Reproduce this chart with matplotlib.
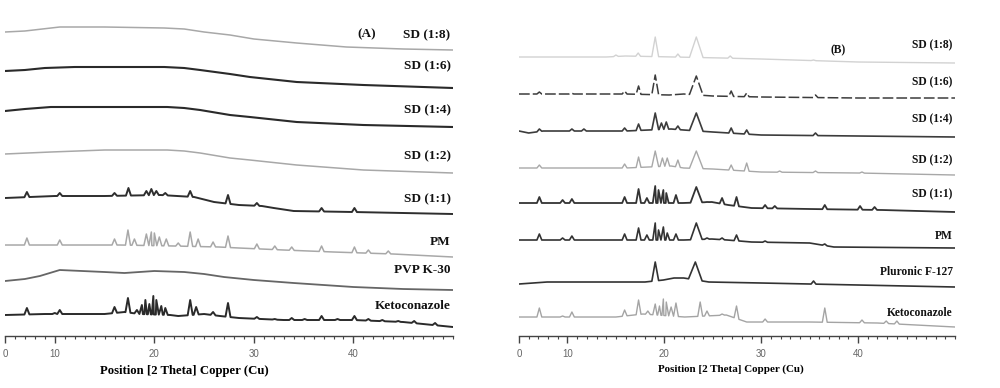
import numpy as np
import matplotlib.pyplot as plt
from matplotlib.ticker import FixedLocator, MultipleLocator

# XRD traces, heights (arbitrary units above the axis line)
# each trace: baseline nodes (2theta, level) + peaks (2theta, apex level[, half width])

# ---------------- panel A (PVP K-30) ----------------
sd18_a_base = [(5, 304), (7, 305), (10.5, 309), (15, 309), (21, 308), (23, 307), (25, 304), (27.6, 301),
               (30, 297), (34.3, 293), (39.3, 289), (45, 287), (50, 286)]
sd16_a_base = [(5, 265), (7, 266), (9, 268), (12, 269), (21, 269), (23, 268), (24.6, 266), (27.6, 262),
               (29.6, 259), (34.3, 254), (41, 251), (50, 248)]
sd14_a_base = [(5, 225), (7, 227), (9.6, 229), (15, 229), (21.3, 229), (23, 228), (24.6, 226), (27.6, 221),
               (29.6, 219), (34.3, 214), (41, 211), (50, 209)]
sd12_a_base = [(5, 182), (9.6, 184), (15, 186), (21.3, 186), (23, 185), (24.6, 183), (27.6, 178),
               (29.6, 176), (34.3, 171), (41, 166), (50, 163)]
sd11_a_base = [(5, 138), (10, 140), (15, 140), (20.6, 141), (24, 139), (26, 134), (28.5, 131),
               (30.8, 130), (32, 128), (34, 125), (40, 124), (45, 123), (50, 122)]
sd11_a_peaks = [(7.2, 144), (10.5, 143), (16.0, 143), (17.4, 148), (19.2, 145), (19.7, 147), (20.2, 145),
                (21.1, 143), (23.6, 145), (27.4, 141), (30.3, 133), (36.8, 128), (40.1, 128)]
pm_a_base = [(5, 91), (12, 91), (16.5, 91), (22, 90), (26.5, 89), (28.5, 88), (33, 86), (38, 84),
             (44, 82), (50, 79)]
pm_a_peaks = [(7.2, 98), (10.5, 96), (16.0, 97), (17.35, 106), (18.0, 97), (19.2, 102), (19.7, 104),
              (20.0, 103), (20.5, 99), (21.2, 97), (22.4, 93), (23.6, 104), (24.4, 97), (25.9, 94),
              (27.4, 100), (30.3, 92), (32.1, 90), (33.8, 89), (36.8, 90), (40.1, 89), (41.5, 86),
              (43.5, 85)]
pvp_a_base = [(5, 55), (7, 57), (8.5, 60), (10.5, 66), (15, 64), (17, 63), (20, 65), (23, 64),
              (25, 62), (27, 59), (30, 56), (34, 53), (40, 49), (45, 47), (50, 46)]
keto_a_base = [(5, 21), (9, 22), (12, 22), (15, 22), (17, 24), (18.5, 22), (21.6, 21), (22.4, 20),
               (25, 22), (26.6, 20), (28.5, 18), (33, 16), (40, 16), (45, 14), (50, 9)]
keto_a_peaks = [(7.2, 28), (10.0, 23), (10.5, 26), (16.0, 29), (17.35, 38), (18.25, 26), (18.75, 31),
                (19.1, 36), (19.5, 32), (19.9, 40), (20.2, 36), (20.7, 30), (21.1, 28), (23.6, 36),
                (24.2, 29), (25.9, 24), (27.4, 33), (30.3, 19), (32.1, 17), (33.8, 18), (35.1, 17),
                (36.8, 20), (38.4, 17), (40.1, 20), (41.5, 17), (42.9, 16), (44.5, 15), (46.1, 15),
                (48.2, 13)]

# ---------------- panel B (Pluronic F-127) ----------------
sd18_b_base = [(5, 279), (14, 279), (16, 280), (21, 279), (26, 278), (30, 277), (40, 274), (50, 273)]
sd18_b_peaks = [(15, 281), (17.3, 283), (19.06, 299, 0.35), (21.4, 282), (23.3, 299, 0.7),
                (26.8, 280), (35.4, 276)]
sd16_b_base = [(5, 242), (16, 242), (20.5, 241), (22, 242), (25, 240), (30, 239), (40, 238), (50, 238)]
sd16_b_peaks = [(7.1, 244), (10.4, 243), (15.9, 245), (17.34, 250), (19.06, 261, 0.35), (23.3, 260, 0.7),
                (26.9, 245), (28.5, 243), (35.6, 241)]
sd14_b_base = [(5, 205), (6, 203), (7.5, 205), (16, 205), (20.7, 207), (22, 206), (25, 204), (30, 201),
               (40, 200), (50, 199)]
sd14_b_peaks = [(7.1, 207), (10.46, 207), (11.7, 207), (15.9, 208), (17.34, 212), (19.06, 223, 0.35),
                (19.7, 213), (20.2, 214), (21.4, 210), (23.3, 223, 0.7), (26.9, 208), (28.5, 206),
                (35.6, 203)]
sd12_b_base = [(5, 168), (16, 168), (20.7, 170), (22, 168), (25, 167), (30, 164), (40, 163), (50, 161)]
sd12_b_peaks = [(7.1, 171), (15.9, 172), (17.34, 179), (19.06, 185, 0.35), (19.8, 178), (20.3, 178),
                (21.4, 176), (23.3, 185, 0.7), (26.9, 171), (28.5, 173), (31.9, 165), (35.6, 165),
                (40.4, 164)]
sd11_b_base = [(5, 133), (12, 133), (16.5, 133), (21.9, 133), (24.9, 134), (26.6, 131), (29, 128),
               (35, 127), (42.5, 126), (50, 124)]
sd11_b_peaks = [(7.1, 139), (9.5, 136), (10.46, 137), (15.9, 139), (17.34, 147), (18.2, 138),
                (19.06, 150), (19.4, 146), (19.9, 146), (20.2, 143), (21.2, 141), (23.3, 149, 0.6),
                (24.4, 134), (25.96, 138), (27.45, 139), (30.4, 131), (31.4, 130), (36.56, 131),
                (40.2, 130), (41.7, 129)]
pm_b_base = [(5, 96), (16.5, 96), (22, 96), (24.9, 97), (26.5, 96), (29, 94), (35, 93), (37.5, 89), (50, 88)]
pm_b_peaks = [(7.1, 102), (9.5, 98), (10.46, 100), (15.9, 102), (17.34, 108), (18.2, 101), (19.06, 113),
              (19.4, 106), (19.9, 109), (20.3, 103), (21.2, 102), (23.3, 113, 0.6), (24.4, 98),
              (25.96, 98), (27.45, 101), (30.4, 95), (36.56, 92)]
plur_b_base = [(5, 52), (7.9, 54), (18, 54), (19.9, 56), (21, 58), (22, 58), (24.6, 54), (30, 53),
               (40, 51), (50, 49)]
plur_b_peaks = [(19.06, 74, 0.35), (23.2, 74, 0.7), (35.4, 55)]
keto_b_base = [(5, 19), (9, 19), (15, 19), (17.8, 22), (22.1, 19), (26.4, 21), (28.5, 14), (35, 14),
               (42, 13), (50, 9)]
keto_b_peaks = [(7.1, 28), (9.5, 20), (10.46, 24), (15.9, 26), (17.34, 36), (18.3, 25), (19.06, 32),
                (19.5, 30), (19.9, 37), (20.2, 34), (20.7, 29), (21.2, 33), (23.7, 34), (24.4, 25),
                (25.96, 22), (27.45, 30), (30.4, 17), (36.56, 28), (40.4, 16), (42.9, 15), (44, 15)]

labels_a = ['SD (1:8)', 'SD (1:6)', 'SD (1:4)', 'SD (1:2)', 'SD (1:1)', 'PM', 'PVP K-30', 'Ketoconazole']
labels_b = ['SD (1:8)', 'SD (1:6)', 'SD (1:4)', 'SD (1:2)', 'SD (1:1)', 'PM', 'Pluronic F-127', 'Ketoconazole']
label_y_a = [301, 270, 226, 180, 137, 94, 66, 30]
label_y_b = [291, 254, 217, 176, 142, 100, 64, 23]
tick_pos = [5, 10, 20, 30, 40]
tick_txt = ['0', '10', '20', '30', '40']


def trace(base, peaks=(), hw=0.25):
    bx = np.array([b[0] for b in base], float)
    by = np.array([b[1] for b in base], float)
    pts = []
    for p in peaks:
        w = p[2] if len(p) > 2 else hw
        pts.append((p[0] - w, np.interp(p[0] - w, bx, by)))
        pts.append((p[0], p[1]))
        pts.append((p[0] + w, np.interp(p[0] + w, bx, by)))
    for x, y in zip(bx, by):
        if all(abs(x - p[0]) > (p[2] if len(p) > 2 else hw) for p in peaks):
            pts.append((x, y))
    pts.sort()
    return [q[0] for q in pts], [q[1] for q in pts]


fig = plt.figure(figsize=(10, 3.88), dpi=100)
ax_a = fig.add_axes([0.005, 0.134, 0.448, 0.866])
ax_b = fig.add_axes([0.519, 0.134, 0.436, 0.866])

traces_a = [
    (sd18_a_base, [], '#a8a8a8', 1.1, '-'),
    (sd16_a_base, [], '#2a2a2a', 1.5, '-'),
    (sd14_a_base, [], '#2a2a2a', 1.5, '-'),
    (sd12_a_base, [], '#a8a8a8', 1.1, '-'),
    (sd11_a_base, sd11_a_peaks, '#2e2e2e', 1.4, '-'),
    (pm_a_base, pm_a_peaks, '#a8a8a8', 1.1, '-'),
    (pvp_a_base, [], '#666666', 1.3, '-'),
    (keto_a_base, keto_a_peaks, '#2a2a2a', 1.4, '-'),
]
traces_b = [
    (sd18_b_base, sd18_b_peaks, '#d2d2d2', 1.0, '-'),
    (sd16_b_base, sd16_b_peaks, '#3c3c3c', 1.1, (0, (7, 2))),
    (sd14_b_base, sd14_b_peaks, '#3c3c3c', 1.2, '-'),
    (sd12_b_base, sd12_b_peaks, '#a8a8a8', 1.0, '-'),
    (sd11_b_base, sd11_b_peaks, '#333333', 1.3, '-'),
    (pm_b_base, pm_b_peaks, '#333333', 1.2, '-'),
    (plur_b_base, plur_b_peaks, '#333333', 1.2, '-'),
    (keto_b_base, keto_b_peaks, '#a4a4a4', 1.0, '-'),
]

for ax, traces, labels, ly, fs, tag, tag_xy, xl_fs, xl_x in [
        (ax_a, traces_a, labels_a, label_y_a, 9.5, '(A)', (41.3, 302), 9.2, 0.40),
        (ax_b, traces_b, labels_b, label_y_b, 8.3, '(B)', (37.9, 286), 7.9, 0.486)]:
    for base, peaks, col, lw, ls in traces:
        x, y = trace(base, peaks)
        ax.plot(x, y, color=col, lw=lw, ls=ls)
    for lab, yy in zip(labels, ly):
        ax.text(49.75, yy, lab, ha='right', va='center', fontsize=fs, fontweight='bold',
                family='Liberation Serif', color='#111111')
    ax.text(tag_xy[0], tag_xy[1], tag, ha='center', va='center', fontsize=fs, fontweight='bold',
            family='Liberation Serif', color='#111111')
    ax.set_xlim(5, 50)
    ax.set_ylim(0, 336)
    for s in ['top', 'right', 'left']:
        ax.spines[s].set_visible(False)
    ax.spines['bottom'].set_color('#444444')
    ax.spines['bottom'].set_linewidth(1.0)
    ax.set_yticks([])
    ax.xaxis.set_major_locator(FixedLocator(tick_pos))
    ax.set_xticklabels(tick_txt)
    ax.xaxis.set_minor_locator(MultipleLocator(1))
    ax.tick_params(axis='x', which='major', length=5, width=1, color='#444444',
                   labelsize=7, labelcolor='#666666', pad=4)
    ax.tick_params(axis='x', which='minor', length=2.5, width=0.8, color='#444444')
    for t in ax.get_xticklabels():
        t.set_family('Liberation Sans')
    ax.set_xlabel('Position [2 Theta] Copper (Cu)', fontsize=xl_fs,
                  fontweight='bold', family='Liberation Serif')
    ax.xaxis.set_label_coords(xl_x, -0.085)

fig.savefig('out.png', dpi=100)
